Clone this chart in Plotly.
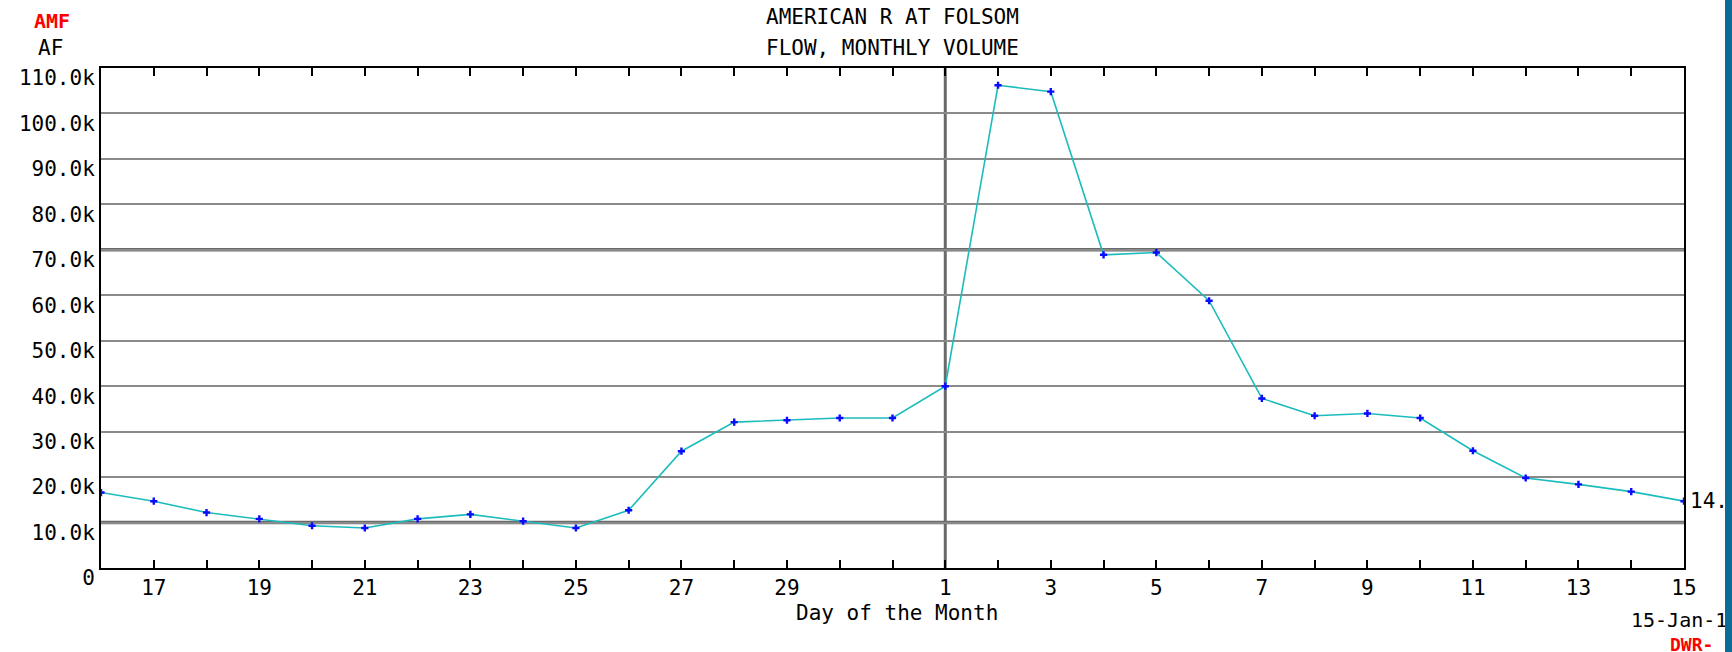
"""
American R at Folsom - daily flow volume, mid-Dec to mid-Jan (CDEC style).
"""

import plotly.graph_objects as go

# --- data -------------------------------------------------------------------
DAYS = [16, 17, 18, 19, 20, 21, 22, 23, 24, 25, 26, 27, 28, 29, 30, 31,
        1, 2, 3, 4, 5, 6, 7, 8, 9, 10, 11, 12, 13, 14, 15]
VOLUME_AF = [16600, 14700, 12200, 10800, 9300, 8800, 10800, 11800, 10300, 8800,
             12700, 25700, 32100, 32500, 33000, 33000,
             40000, 106200, 104800, 68900, 69400, 58800, 37300, 33500, 34000,
             33000, 25800, 19800, 18400, 16800, 14700]
LABELED_DAYS = [17, 19, 21, 23, 25, 27, 29, 1, 3, 5, 7, 9, 11, 13, 15]
Y_TICKS = [0, 10000, 20000, 30000, 40000, 50000, 60000, 70000, 80000, 90000, 100000, 110000]
Y_TICK_TEXT = ["0", "10.0k", "20.0k", "30.0k", "40.0k", "50.0k", "60.0k",
               "70.0k", "80.0k", "90.0k", "100.0k", "110.0k"]
HEAVY_LEVELS = [10000, 70000]
MONTH_START = DAYS.index(1)

FONT = "DejaVu Sans Mono, Liberation Mono, monospace"
FS = 21
GRID = "#8a8a8a"
HEAVY = "#6a6a6a"
PAGE_BLUE = "#0b6c98"

x = list(range(len(DAYS)))
tick_text = [str(d) if d in LABELED_DAYS else "" for d in DAYS]

fig = go.Figure()
fig.add_trace(go.Scatter(
    x=x, y=VOLUME_AF, mode="lines+markers",
    line=dict(color="#1cbcbc", width=1.6),
    marker=dict(symbol="cross", size=6, color="#0a0aff", line=dict(width=0)),
    showlegend=False, hoverinfo="y",
))

shapes = []
for lvl in HEAVY_LEVELS:
    shapes.append(dict(type="line", xref="paper", yref="y", x0=0, x1=1, y0=lvl, y1=lvl,
                       line=dict(color=HEAVY, width=3.5), layer="below"))
shapes.append(dict(type="line", xref="x", yref="paper", x0=MONTH_START, x1=MONTH_START,
                   y0=0, y1=1, line=dict(color=HEAVY, width=3), layer="below"))

annotations = [
    dict(text="AMERICAN R AT FOLSOM", x=0.5, y=1.102),
    dict(text="FLOW, MONTHLY VOLUME", x=0.5, y=1.04),
    dict(text="<b>AMF</b>", x=-0.031, y=1.094, font=dict(size=FS - 1, color="#ff0000")),
    dict(text="AF", x=-0.032, y=1.04),
    dict(text="Day of the Month", x=0.503, y=-0.09),
    dict(text="15-Jan-1", x=0.9653, y=-0.104, xanchor="left", font=dict(size=FS - 1)),
    dict(text="<b>DWR-</b>", x=0.99, y=-0.153, xanchor="left",
         font=dict(size=FS - 3, color="#ff0000")),
]
for a in annotations:
    a.setdefault("xref", "paper")
    a.setdefault("yref", "paper")
    a.setdefault("showarrow", False)
    a.setdefault("xanchor", "center")
    a.setdefault("yanchor", "middle")
    a.setdefault("font", dict(size=FS))
# last value label right of the frame
annotations.append(dict(text=f"{VOLUME_AF[-1] / 1000:.1f}k", x=x[-1], y=VOLUME_AF[-1],
                        xref="x", yref="y", xanchor="left", yanchor="middle",
                        xshift=4, showarrow=False, font=dict(size=FS)))

# figure stops 7px short of the window: the page background shows as the blue strip
fig.update_layout(
    width=1725, height=652,
    margin=dict(l=101, r=41, t=68, b=84),
    paper_bgcolor="white", plot_bgcolor="white",
    font=dict(family=FONT, size=FS, color="black"),
    shapes=shapes, annotations=annotations,
    xaxis=dict(
        range=[0, len(DAYS) - 1], tickvals=x, ticktext=tick_text,
        ticks="inside", ticklen=8, tickwidth=2, tickcolor="black",
        showline=True, linecolor="black", linewidth=2, mirror="allticks",
        showgrid=False, zeroline=False, tickfont=dict(size=FS),
    ),
    yaxis=dict(
        range=[0, 110000], tickvals=Y_TICKS, ticktext=Y_TICK_TEXT,
        ticks="", showline=True, linecolor="black", linewidth=2, mirror=True,
        showgrid=True, gridcolor=GRID, gridwidth=2, zeroline=False,
        ticklabelshift=10, tickfont=dict(size=FS),
    ),
)

fig.write_html(
    "out.html",
    config={"displayModeBar": False},
    post_script=(
        "document.body.style.margin='0';"
        "document.body.style.overflow='hidden';"
        f"document.body.style.background='{PAGE_BLUE}';"
    ),
)
